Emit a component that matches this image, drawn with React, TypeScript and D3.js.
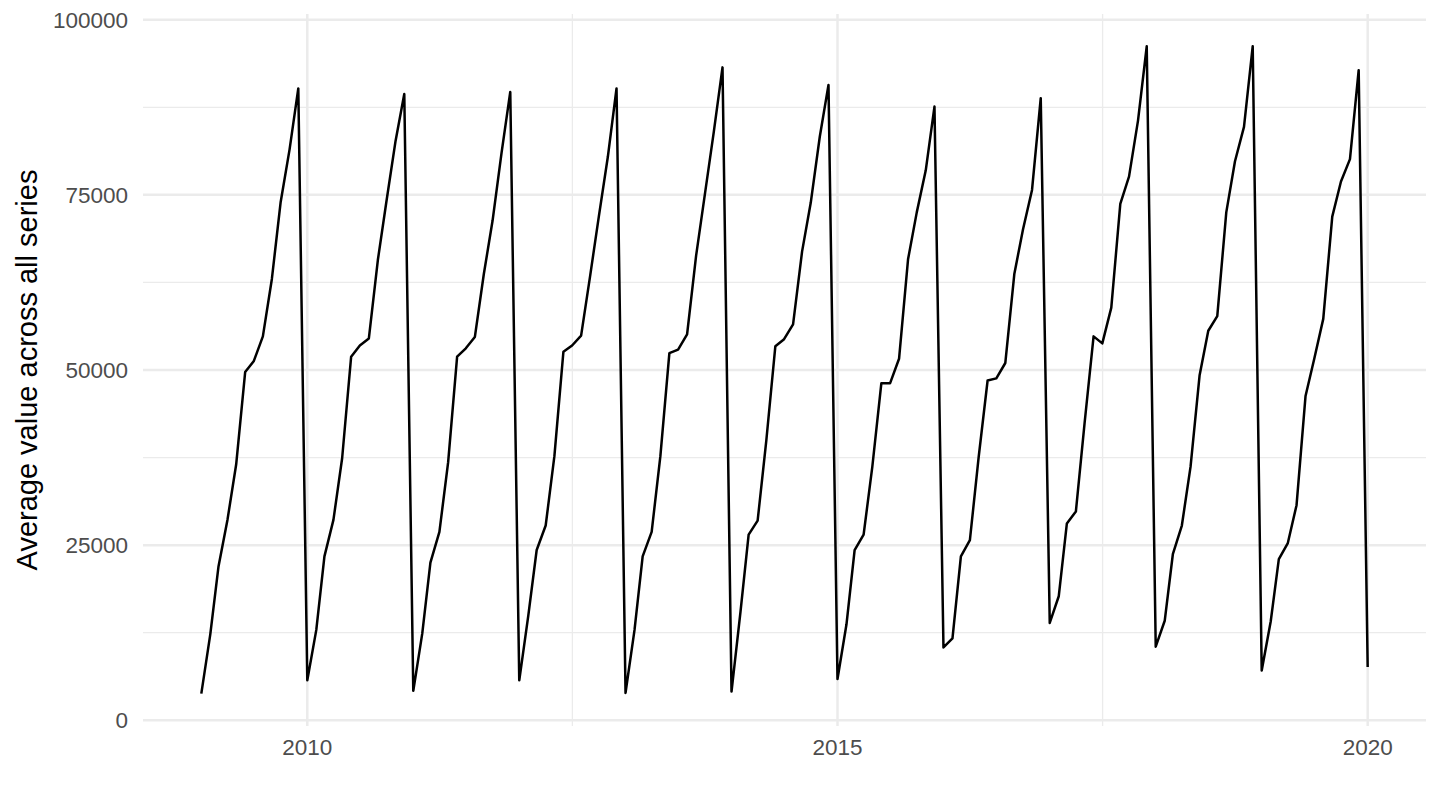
import { useMemo } from "react";
import * as d3 from "d3";

// monthly averages, Jan..Dec for each year
const v2009 = [3800, 12300, 21900, 28600, 36500, 49700, 51300, 54800, 63000, 73900, 81500, 90200];
const v2010 = [5700, 12900, 23400, 28600, 37400, 51900, 53500, 54500, 65700, 74200, 82700, 89400];
const v2011 = [4200, 12400, 22500, 26900, 36800, 51900, 53100, 54700, 63700, 71300, 81000, 89700];
const v2012 = [5700, 14900, 24300, 27800, 37700, 52600, 53500, 54900, 63400, 71900, 80400, 90200];
const v2013 = [3900, 12900, 23400, 26900, 37700, 52400, 52900, 55100, 66300, 75000, 84000, 93200];
const v2014 = [4100, 15500, 26500, 28500, 40000, 53400, 54400, 56500, 66900, 73900, 83300, 90700];
const v2015 = [5900, 13700, 24300, 26500, 36200, 48100, 48100, 51600, 65800, 72500, 78500, 87600];
const v2016 = [10400, 11700, 23400, 25700, 37500, 48500, 48800, 51000, 63700, 70100, 75700, 88800];
const v2017 = [13900, 17700, 28100, 29800, 42400, 54800, 53800, 58900, 73700, 77600, 85600, 96200];
const v2018 = [10500, 14200, 23700, 27800, 36200, 49200, 55600, 57700, 72500, 79800, 84700, 96200];
const v2019 = [7100, 14100, 23000, 25300, 30700, 46300, 51600, 57300, 71900, 76900, 80100, 92800];
const v2020 = [7600];

const years = [2009, 2010, 2011, 2012, 2013, 2014, 2015, 2016, 2017, 2018, 2019, 2020];
const yearValues = [v2009, v2010, v2011, v2012, v2013, v2014, v2015, v2016, v2017, v2018, v2019, v2020];

const xTickYears = [2010, 2015, 2020];
const yTicks = [0, 25000, 50000, 75000, 100000];

const WIDTH = 1440;
const HEIGHT = 810;
const MARGIN = { top: 14, right: 14, bottom: 84, left: 143 };

type Point = { date: Date; value: number };

const expand = (lo: number, hi: number, f = 0.05) => {
    const pad = (hi - lo) * f;
    return [lo - pad, hi + pad];
};

export default function App() {
    const data: Point[] = useMemo(() => {
        const out: Point[] = [];
        years.forEach((yr, i) => {
            yearValues[i].forEach((v, m) => out.push({ date: new Date(yr, m, 1), value: v }));
        });
        return out;
    }, []);

    const x = useMemo(() => {
        const [t0, t1] = d3.extent(data, (d) => d.date.getTime()) as [number, number];
        const [a, b] = expand(t0, t1);
        return d3.scaleTime().domain([new Date(a), new Date(b)]).range([MARGIN.left, WIDTH - MARGIN.right]);
    }, [data]);

    const y = useMemo(() => {
        const [lo, hi] = d3.extent(data, (d) => d.value) as [number, number];
        return d3.scaleLinear().domain(expand(lo, hi)).range([HEIGHT - MARGIN.bottom, MARGIN.top]);
    }, [data]);

    const line = d3
        .line<Point>()
        .x((d) => x(d.date))
        .y((d) => y(d.value));

    const xMajor = xTickYears.map((yr) => new Date(yr, 0, 1));
    const xMinor = xMajor.slice(1).map((d, i) => new Date((d.getTime() + xMajor[i].getTime()) / 2));
    const yMinor = yTicks.slice(1).map((t, i) => (t + yTicks[i]) / 2);

    const x0 = MARGIN.left;
    const x1 = WIDTH - MARGIN.right;
    const y0 = MARGIN.top;
    const y1 = HEIGHT - MARGIN.bottom;
    const grid = "#EBEBEB";
    const font = "'Liberation Sans', Arial, sans-serif";

    return (
        <svg width={WIDTH} height={HEIGHT} style={{ position: "absolute", left: 0, top: 0, background: "#fff" }}>
            {/* minor grid */}
            {yMinor.map((t) => (
                <line key={"ym" + t} x1={x0} x2={x1} y1={y(t)} y2={y(t)} stroke={grid} strokeWidth={1.3} />
            ))}
            {xMinor.map((d, i) => (
                <line key={"xm" + i} x1={x(d)} x2={x(d)} y1={y0} y2={y1} stroke={grid} strokeWidth={1.3} />
            ))}
            {/* major grid */}
            {yTicks.map((t) => (
                <line key={"y" + t} x1={x0} x2={x1} y1={y(t)} y2={y(t)} stroke={grid} strokeWidth={2.5} />
            ))}
            {xMajor.map((d, i) => (
                <line key={"x" + i} x1={x(d)} x2={x(d)} y1={y0} y2={y1} stroke={grid} strokeWidth={2.5} />
            ))}

            <path d={line(data)!} fill="none" stroke="#000" strokeWidth={2.5} strokeLinejoin="round" />

            {/* axis labels */}
            {yTicks.map((t) => (
                <text
                    key={"yl" + t}
                    x={128}
                    y={y(t)}
                    dy="0.36em"
                    textAnchor="end"
                    fontFamily={font}
                    fontSize={22.5}
                    fill="#4D4D4D"
                >
                    {t}
                </text>
            ))}
            {xMajor.map((d, i) => (
                <text
                    key={"xl" + i}
                    x={x(d)}
                    y={755}
                    textAnchor="middle"
                    fontFamily={font}
                    fontSize={22.5}
                    fill="#4D4D4D"
                >
                    {d.getFullYear()}
                </text>
            ))}
            <text
                transform={`translate(37, ${(y0 + y1) / 2}) rotate(-90)`}
                textAnchor="middle"
                fontFamily={font}
                fontSize={29}
                fill="#000"
            >
                Average value across all series
            </text>
        </svg>
    );
}
